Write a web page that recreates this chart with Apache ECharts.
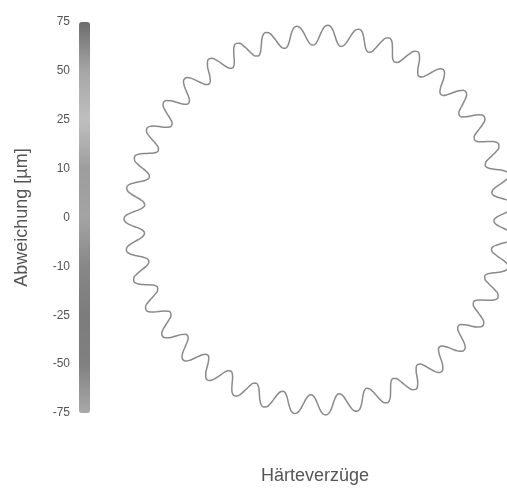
<!DOCTYPE html>
<html>
<head>
<meta charset="utf-8">
<script src="https://cdn.jsdelivr.net/npm/echarts@6/dist/echarts.min.js"></script>
<style>
html,body{margin:0;padding:0;background:#fff;}
#chart{width:507px;height:489px;}
</style>
</head>
<body>
<div id="chart"></div>
<script>
// Colour bar tick labels (bottom -> top), equally spaced on the bar
var barLabels = ['-75', '-50', '-25', '-10', '0', '10', '25', '50', '75'];
// Grey levels of the scanned colour bar at each label (bottom -> top)
var barGreys = ['#a9a9a9', '#808080', '#7c7c7c', '#878787', '#a3a3a3', '#9d9d9d', '#bfbfbf', '#a6a6a6', '#6c6c6c'];
// Gear outline: number of teeth, angle of first tooth tip (deg), radial profile of one tooth pitch
var toothCount = 39;
var firstTipAngle = 4.3;
var toothProfile = [195, 194, 190.5, 185, 179.5, 176, 175, 176, 179.5, 185, 190.5, 194];

// build polar table (radius, angle) from the tooth profile
var pitch = 360 / toothCount;
var gearData = [];
for (var t = 0; t <= toothCount; t++) {
  for (var k = 0; k < toothProfile.length; k++) {
    var ang = firstTipAngle + t * pitch + k * pitch / toothProfile.length;
    gearData.push([toothProfile[k], ang]);
    if (t === toothCount) break;
  }
}

var font = 'Liberation Sans';
var chart = echarts.init(document.getElementById('chart'));
chart.setOption({
  backgroundColor: '#ffffff',
  animation: false,
  grid: {left: 79, top: 22, width: 11, height: 391},
  xAxis: {type: 'value', show: false, min: 0, max: 1},
  yAxis: {
    type: 'category',
    data: barLabels,
    boundaryGap: false,
    axisLine: {show: false},
    axisTick: {show: false},
    splitLine: {show: false},
    axisLabel: {color: '#555', fontFamily: font, fontSize: 12, margin: 9},
    name: 'Abweichung [µm]',
    nameLocation: 'middle',
    nameGap: 48,
    nameTextStyle: {color: '#555', fontFamily: font, fontSize: 18}
  },
  visualMap: {
    type: 'continuous',
    min: 0,
    max: barLabels.length - 1,
    orient: 'vertical',
    left: 79,
    top: 22,
    padding: 0,
    itemWidth: 11,
    itemHeight: 391,
    calculable: false,
    text: null,
    showLabel: false,
    seriesIndex: 0,
    inRange: {color: barGreys}
  },
  polar: {center: [319, 220], radius: 200},
  angleAxis: {type: 'value', min: 0, max: 360, startAngle: 0, clockwise: false, show: false},
  radiusAxis: {type: 'value', min: 0, max: 200, show: false},
  title: {
    text: 'Härteverzüge',
    left: 310,
    textAlign: 'center',
    top: 462,
    textStyle: {color: '#555', fontFamily: font, fontSize: 18, fontWeight: 'normal'}
  },
  series: [
    {type: 'scatter', xAxisIndex: 0, yAxisIndex: 0, data: [], silent: true},
    {
      type: 'line',
      coordinateSystem: 'polar',
      data: gearData,
      smooth: true,
      symbol: 'none',
      lineStyle: {color: '#8a8a8a', width: 1.5},
      silent: true
    }
  ]
});
</script>
</body>
</html>
